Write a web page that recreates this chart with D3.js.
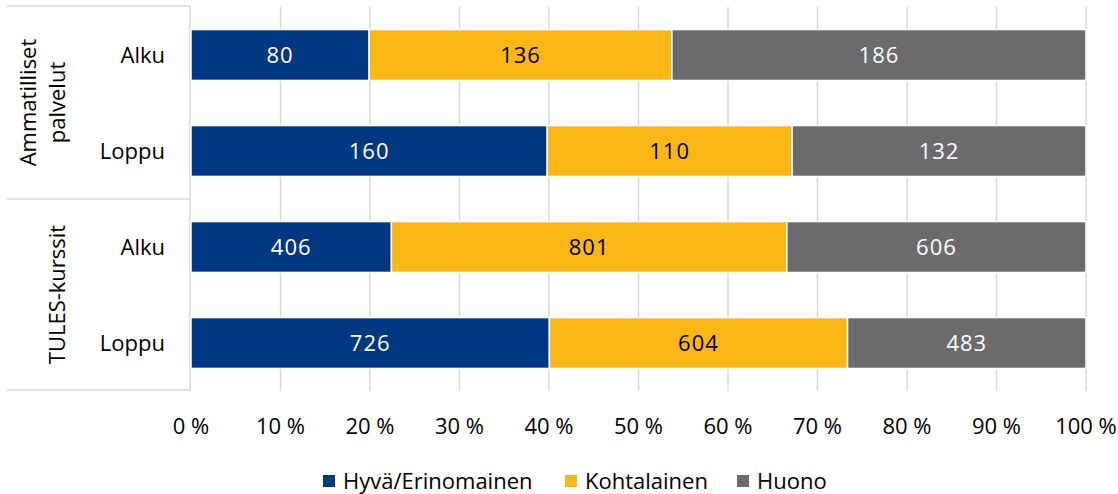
<!DOCTYPE html>
<html>
<head>
<meta charset="utf-8">
<script src="https://cdn.jsdelivr.net/npm/d3@7"></script>
<style>
  body { margin: 0; background: #fff; }
  text { font-family: "Open Sans", sans-serif; }
</style>
</head>
<body>
<div id="chart"></div>
<script>
// data
var groups = [["Ammatilliset", "palvelut"], ["TULES-kurssit"]];
var rows = ["Ammatilliset|Alku", "Ammatilliset|Loppu", "TULES|Alku", "TULES|Loppu"];
var rowLabels = ["Alku", "Loppu", "Alku", "Loppu"];
var series = ["Hyvä/Erinomainen", "Kohtalainen", "Huono"];
var hyva = [80, 160, 406, 726];
var kohtalainen = [136, 110, 801, 604];
var huono = [186, 132, 606, 483];
var ticks = [0, 0.1, 0.2, 0.3, 0.4, 0.5, 0.6, 0.7, 0.8, 0.9, 1];

var colors = ["#003781", "#FCB716", "#6B6B6D"];
var labelColors = ["#fff", "#000", "#fff"];

var W = 1118, H = 494;
var svg = d3.select("#chart").append("svg").attr("width", W).attr("height", H);

var x = d3.scaleLinear().domain([0, 1]).range([191, 1086]);
var y = d3.scaleBand().domain(rows).range([7, 391]).paddingInner(0.47).paddingOuter(0.235);

// table for stacking
var table = rows.map(function(r, i) {
  var tot = hyva[i] + kohtalainen[i] + huono[i];
  return { row: r, vals: [hyva[i], kohtalainen[i], huono[i]], tot: tot };
});

// gridlines
svg.append("g").selectAll("line").data(ticks.slice(1)).enter().append("line")
  .attr("x1", function(d) { return x(d); }).attr("x2", function(d) { return x(d); })
  .attr("y1", 7).attr("y2", 391)
  .attr("stroke", "#d9d9d9").attr("stroke-width", 1.5);

// left category frame
var frame = svg.append("g").attr("stroke", "#d9d9d9").attr("stroke-width", 1.5);
frame.append("line").attr("x1", x(0) - 1).attr("x2", x(0) - 1).attr("y1", 6).attr("y2", 391);
[6, 199, 390].forEach(function(yy) {
  frame.append("line").attr("x1", 7).attr("x2", x(0) - 1).attr("y1", yy).attr("y2", yy);
});

// bars
table.forEach(function(d) {
  var acc = 0;
  var segs = d.vals.map(function(v, k) {
    var s = { x0: acc / d.tot, x1: (acc + v) / d.tot, v: v, k: k };
    acc += v;
    return s;
  });
  var g = svg.append("g");
  g.selectAll("rect").data(segs).enter().append("rect")
    .attr("x", function(s) { return x(s.x0); })
    .attr("width", function(s) { return x(s.x1) - x(s.x0); })
    .attr("y", y(d.row)).attr("height", y.bandwidth())
    .attr("fill", function(s) { return colors[s.k]; })
    .attr("stroke", "#fff").attr("stroke-width", 1.5);
  g.selectAll("text").data(segs).enter().append("text")
    .attr("x", function(s) { return (x(s.x0) + x(s.x1)) / 2; })
    .attr("y", y(d.row) + y.bandwidth() / 2)
    .attr("dy", "0.35em")
    .attr("text-anchor", "middle")
    .attr("font-size", 22)
    .attr("letter-spacing", 1)
    .attr("fill", function(s) { return labelColors[s.k]; })
    .text(function(s) { return s.v; });
});

// row labels
svg.append("g").selectAll("text").data(rows).enter().append("text")
  .attr("x", 165).attr("y", function(r) { return y(r) + y.bandwidth() / 2; })
  .attr("dy", "0.35em").attr("text-anchor", "end")
  .attr("font-size", 22).attr("fill", "#000")
  .text(function(r, i) { return rowLabels[i]; });

// group labels (rotated)
var groupCenters = [(6 + 199) / 2, (199 + 390) / 2];
groups.forEach(function(lines, gi) {
  var t = svg.append("text")
    .attr("transform", "translate(0," + groupCenters[gi] + ") rotate(-90)")
    .attr("text-anchor", "middle").attr("font-size", 22).attr("fill", "#000");
  var base = 65 - (lines.length - 1) * 29;
  lines.forEach(function(l, li) {
    t.append("tspan").attr("x", 0).attr("y", base + li * 29).text(l);
  });
});

// x axis labels
svg.append("g").selectAll("text").data(ticks).enter().append("text")
  .attr("x", function(d) { return x(d); }).attr("y", 426)
  .attr("dy", "0.35em").attr("text-anchor", "middle")
  .attr("font-size", 22).attr("fill", "#000")
  .text(function(d) { return Math.round(d * 100) + " %"; });

// legend
var legendX = [323, 565, 737];
var leg = svg.append("g").selectAll("g").data(series).enter().append("g")
  .attr("transform", function(d, i) { return "translate(" + legendX[i] + ",475)"; });
leg.append("rect").attr("width", 12).attr("height", 12)
  .attr("fill", function(d, i) { return colors[i]; });
leg.append("text").attr("x", 20).attr("y", 6).attr("dy", "0.35em")
  .attr("font-size", 22).attr("fill", "#000")
  .text(function(d) { return d; });
</script>
</body>
</html>
